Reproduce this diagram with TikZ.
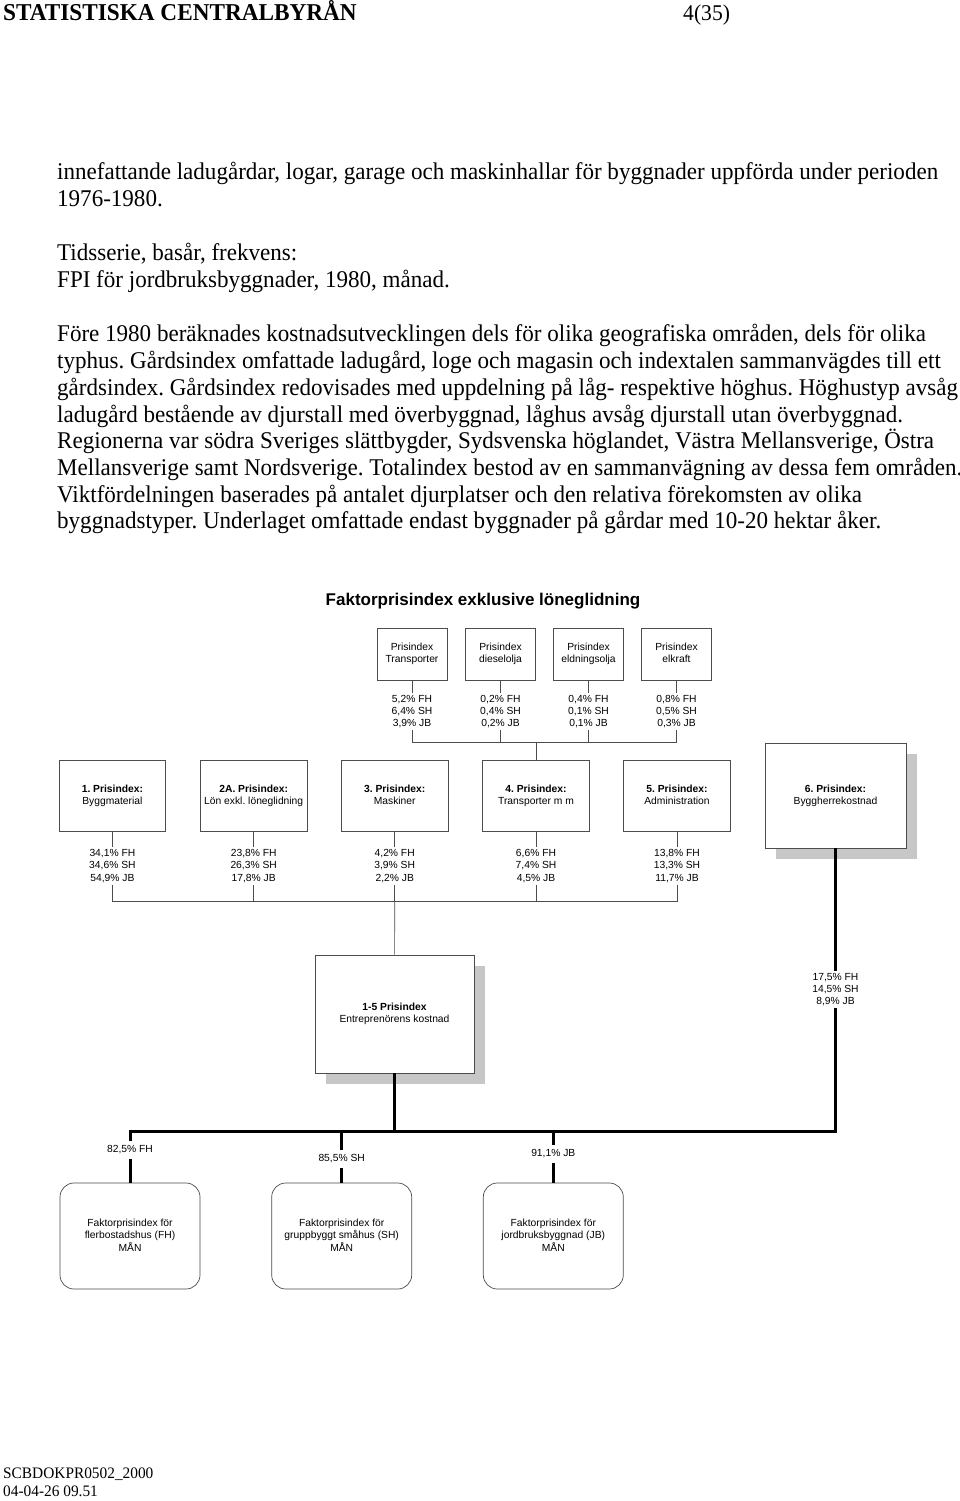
\documentclass[tikz,border=0pt]{standalone}
\usepackage{fontspec}
\setmainfont{Liberation Serif}[FakeStretch=0.96]
\newfontfamily\diagfont{Liberation Sans}
\usepackage{tikz}
\usetikzlibrary{shadows}

\begin{document}
\frenchspacing
\begin{tikzpicture}[x=1pt,y=-1pt,
    body/.style={anchor=base west,inner sep=0pt,font=\fontsize{24}{28}\selectfont},
    dtext/.style={font=\diagfont\fontsize{10.3}{12.2}\selectfont,align=center},
    pbox/.style={dtext,draw=black!70,line width=0.7pt,fill=white,inner sep=0pt,text depth=2.2pt},
    tbox/.style={pbox,minimum width=70pt,minimum height=52pt},
    ibox/.style={pbox,minimum width=106.5pt,minimum height=71pt},
    shbox/.style={pbox,drop shadow={shadow xshift=10.5pt,shadow yshift=-10.5pt,fill=black!22,opacity=1}},
    fbox/.style={pbox,rounded corners=14pt,minimum width=140pt,minimum height=106pt,font=\diagfont\fontsize{10.3}{12.5}\selectfont},
    wlbl/.style={dtext,inner xsep=1pt,inner ysep=2pt,text depth=1.5pt},
    thinln/.style={draw=black!70,line width=0.7pt},
    thickln/.style={draw=black,line width=3pt}]
  \useasboundingbox (0,0) rectangle (960,1501);
  \fill[white] (0,0) rectangle (960,1501);

  % Page head
  \node[body,font=\bfseries\fontsize{24.2}{28}\selectfont] (hdr) at (3,21) {STATISTISKA CENTRALBYRÅN};
  \node[body,font=\fontsize{22.5}{28}\selectfont] (pg) at (683,21) {4(35)};

  % Running text
  \node[body] (t1) at (57,179) {innefattande ladugårdar, logar, garage och maskinhallar för byggnader uppförda under perioden};
  \node[body] (t2) at (57,206) {1976-1980.};
  \node[body] (t3) at (57,260) {Tidsserie, basår, frekvens:};
  \node[body] (t4) at (57,287) {FPI för jordbruksbyggnader, 1980, månad.};
  \node[body] (t5) at (57,341) {Före 1980 beräknades kostnadsutvecklingen dels för olika geografiska områden, dels för olika};
  \node[body] (t6) at (57,368) {typhus. Gårdsindex omfattade ladugård, loge och magasin och indextalen sammanvägdes till ett};
  \node[body] (t7) at (57,395) {gårdsindex. Gårdsindex redovisades med uppdelning på låg- respektive höghus. Höghustyp avsåg};
  \node[body] (t8) at (57,422) {ladugård bestående av djurstall med överbyggnad, låghus avsåg djurstall utan överbyggnad.};
  \node[body] (t9) at (57,448) {Regionerna var södra Sveriges slättbygder, Sydsvenska höglandet, Västra Mellansverige, Östra};
  \node[body] (t10) at (57,475) {Mellansverige samt Nordsverige. Totalindex bestod av en sammanvägning av dessa fem områden.};
  \node[body] (t11) at (57,502) {Viktfördelningen baserades på antalet djurplatser och den relativa förekomsten av olika};
  \node[body] (t12) at (57,528) {byggnadstyper. Underlaget omfattade endast byggnader på gårdar med 10-20 hektar åker.};

  % Chart title
  \node[font=\diagfont\bfseries\fontsize{17}{20}\selectfont] (ttl) at (483,601) {Faktorprisindex exklusive löneglidning};

  % Transport sub-indices
  \node[tbox] (ptrans) at (412,654) {Prisindex\\Transporter};
  \node[tbox] (pdiesel) at (500.5,654) {Prisindex\\dieselolja};
  \node[tbox] (peldn) at (588.5,654) {Prisindex\\eldningsolja};
  \node[tbox] (pelkr) at (676.5,654) {Prisindex\\elkraft};
  \node[wlbl] (wtrans) at (412,711.5) {5,2\% FH\\6,4\% SH\\3,9\% JB};
  \node[wlbl] (wdiesel) at (500.5,711.5) {0,2\% FH\\0,4\% SH\\0,2\% JB};
  \node[wlbl] (weldn) at (588.5,711.5) {0,4\% FH\\0,1\% SH\\0,1\% JB};
  \node[wlbl] (welkr) at (676.5,711.5) {0,8\% FH\\0,5\% SH\\0,3\% JB};

  % Main indices
  \node[ibox] (p1) at (112.4,795.5) {\textbf{1. Prisindex:}\\Byggmaterial};
  \node[ibox] (p2) at (253.7,795.5) {\textbf{2A. Prisindex:}\\Lön exkl. löneglidning};
  \node[ibox] (p3) at (394.7,795.5) {\textbf{3. Prisindex:}\\Maskiner};
  \node[ibox] (p4) at (536,795.5) {\textbf{4. Prisindex:}\\Transporter m m};
  \node[ibox] (p5) at (677,795.5) {\textbf{5. Prisindex:}\\Administration};
  \node[shbox,minimum width=141pt,minimum height=105pt] (p6) at (835.5,795.5) {\textbf{6. Prisindex:}\\Byggherrekostnad};
  \node[wlbl,inner ysep=2.5pt] (w1) at (112.4,866) {34,1\% FH\\34,6\% SH\\54,9\% JB};
  \node[wlbl,inner ysep=2.5pt] (w2) at (253.7,866) {23,8\% FH\\26,3\% SH\\17,8\% JB};
  \node[wlbl,inner ysep=2.5pt] (w3) at (394.7,866) {4,2\% FH\\3,9\% SH\\2,2\% JB};
  \node[wlbl,inner ysep=2.5pt] (w4) at (536,866) {6,6\% FH\\7,4\% SH\\4,5\% JB};
  \node[wlbl,inner ysep=2.5pt] (w5) at (677,866) {13,8\% FH\\13,3\% SH\\11,7\% JB};

  % Contractor total and builder share
  \node[shbox,minimum width=159pt,minimum height=118pt] (pent) at (394.5,1014) {\textbf{1-5 Prisindex}\\Entreprenörens kostnad};
  \node[wlbl] (w6) at (835.5,989.5) {17,5\% FH\\14,5\% SH\\8,9\% JB};

  % Final indices
  \node[wlbl,inner ysep=4.5pt] (lfh) at (130,1150) {82,5\% FH};
  \node[wlbl,inner ysep=4.5pt] (lsh) at (341.7,1159) {85,5\% SH};
  \node[wlbl,inner ysep=4.5pt] (ljb) at (553.3,1154) {91,1\% JB};
  \node[fbox] (ffh) at (130,1236) {Faktorprisindex för\\flerbostadshus (FH)\\MÅN};
  \node[fbox] (fsh) at (341.7,1236) {Faktorprisindex för\\gruppbyggt småhus (SH)\\MÅN};
  \node[fbox] (fjb) at (553.3,1236) {Faktorprisindex för\\jordbruksbyggnad (JB)\\MÅN};

  % Thin connectors
  \coordinate (jtr) at (536,742);
  \coordinate (jent) at (394.7,901);
  \foreach \b/\w in {ptrans/wtrans,pdiesel/wdiesel,peldn/weldn,pelkr/welkr,p1/w1,p2/w2,p3/w3,p4/w4,p5/w5}
    \draw[thinln] (\b) -- (\w);
  \foreach \w in {wtrans,wdiesel,weldn,welkr}
    \draw[thinln] (\w) |- (jtr);
  \draw[thinln] (jtr) -- (p4);
  \foreach \w in {w1,w2,w3,w4,w5}
    \draw[thinln] (\w) |- (jent);
  \draw[thinln] (jent) -- (pent);

  % Thick connectors
  \coordinate (bfh) at (130,1131);
  \coordinate (bsh) at (341.7,1131);
  \coordinate (bjb) at (553.3,1131);
  \coordinate (bent) at (394.5,1131);
  \draw[thickln] (p6) -- (w6);
  \draw[thickln] (w6) |- (bfh) -- (lfh);
  \draw[thickln] (pent) -- (bent);
  \draw[thickln] (bsh) -- (lsh);
  \draw[thickln] (bjb) -- (ljb);
  \draw[thickln] (lfh) -- (ffh);
  \draw[thickln] (lsh) -- (fsh);
  \draw[thickln] (ljb) -- (fjb);

  % Page foot
  \node[body,font=\fontsize{16}{20}\selectfont] (ft1) at (3,1478) {SCBDOKPR0502\_2000};
  \node[body,font=\fontsize{16}{20}\selectfont] (ft2) at (3,1496) {04-04-26 09.51};
\end{tikzpicture}
\end{document}
